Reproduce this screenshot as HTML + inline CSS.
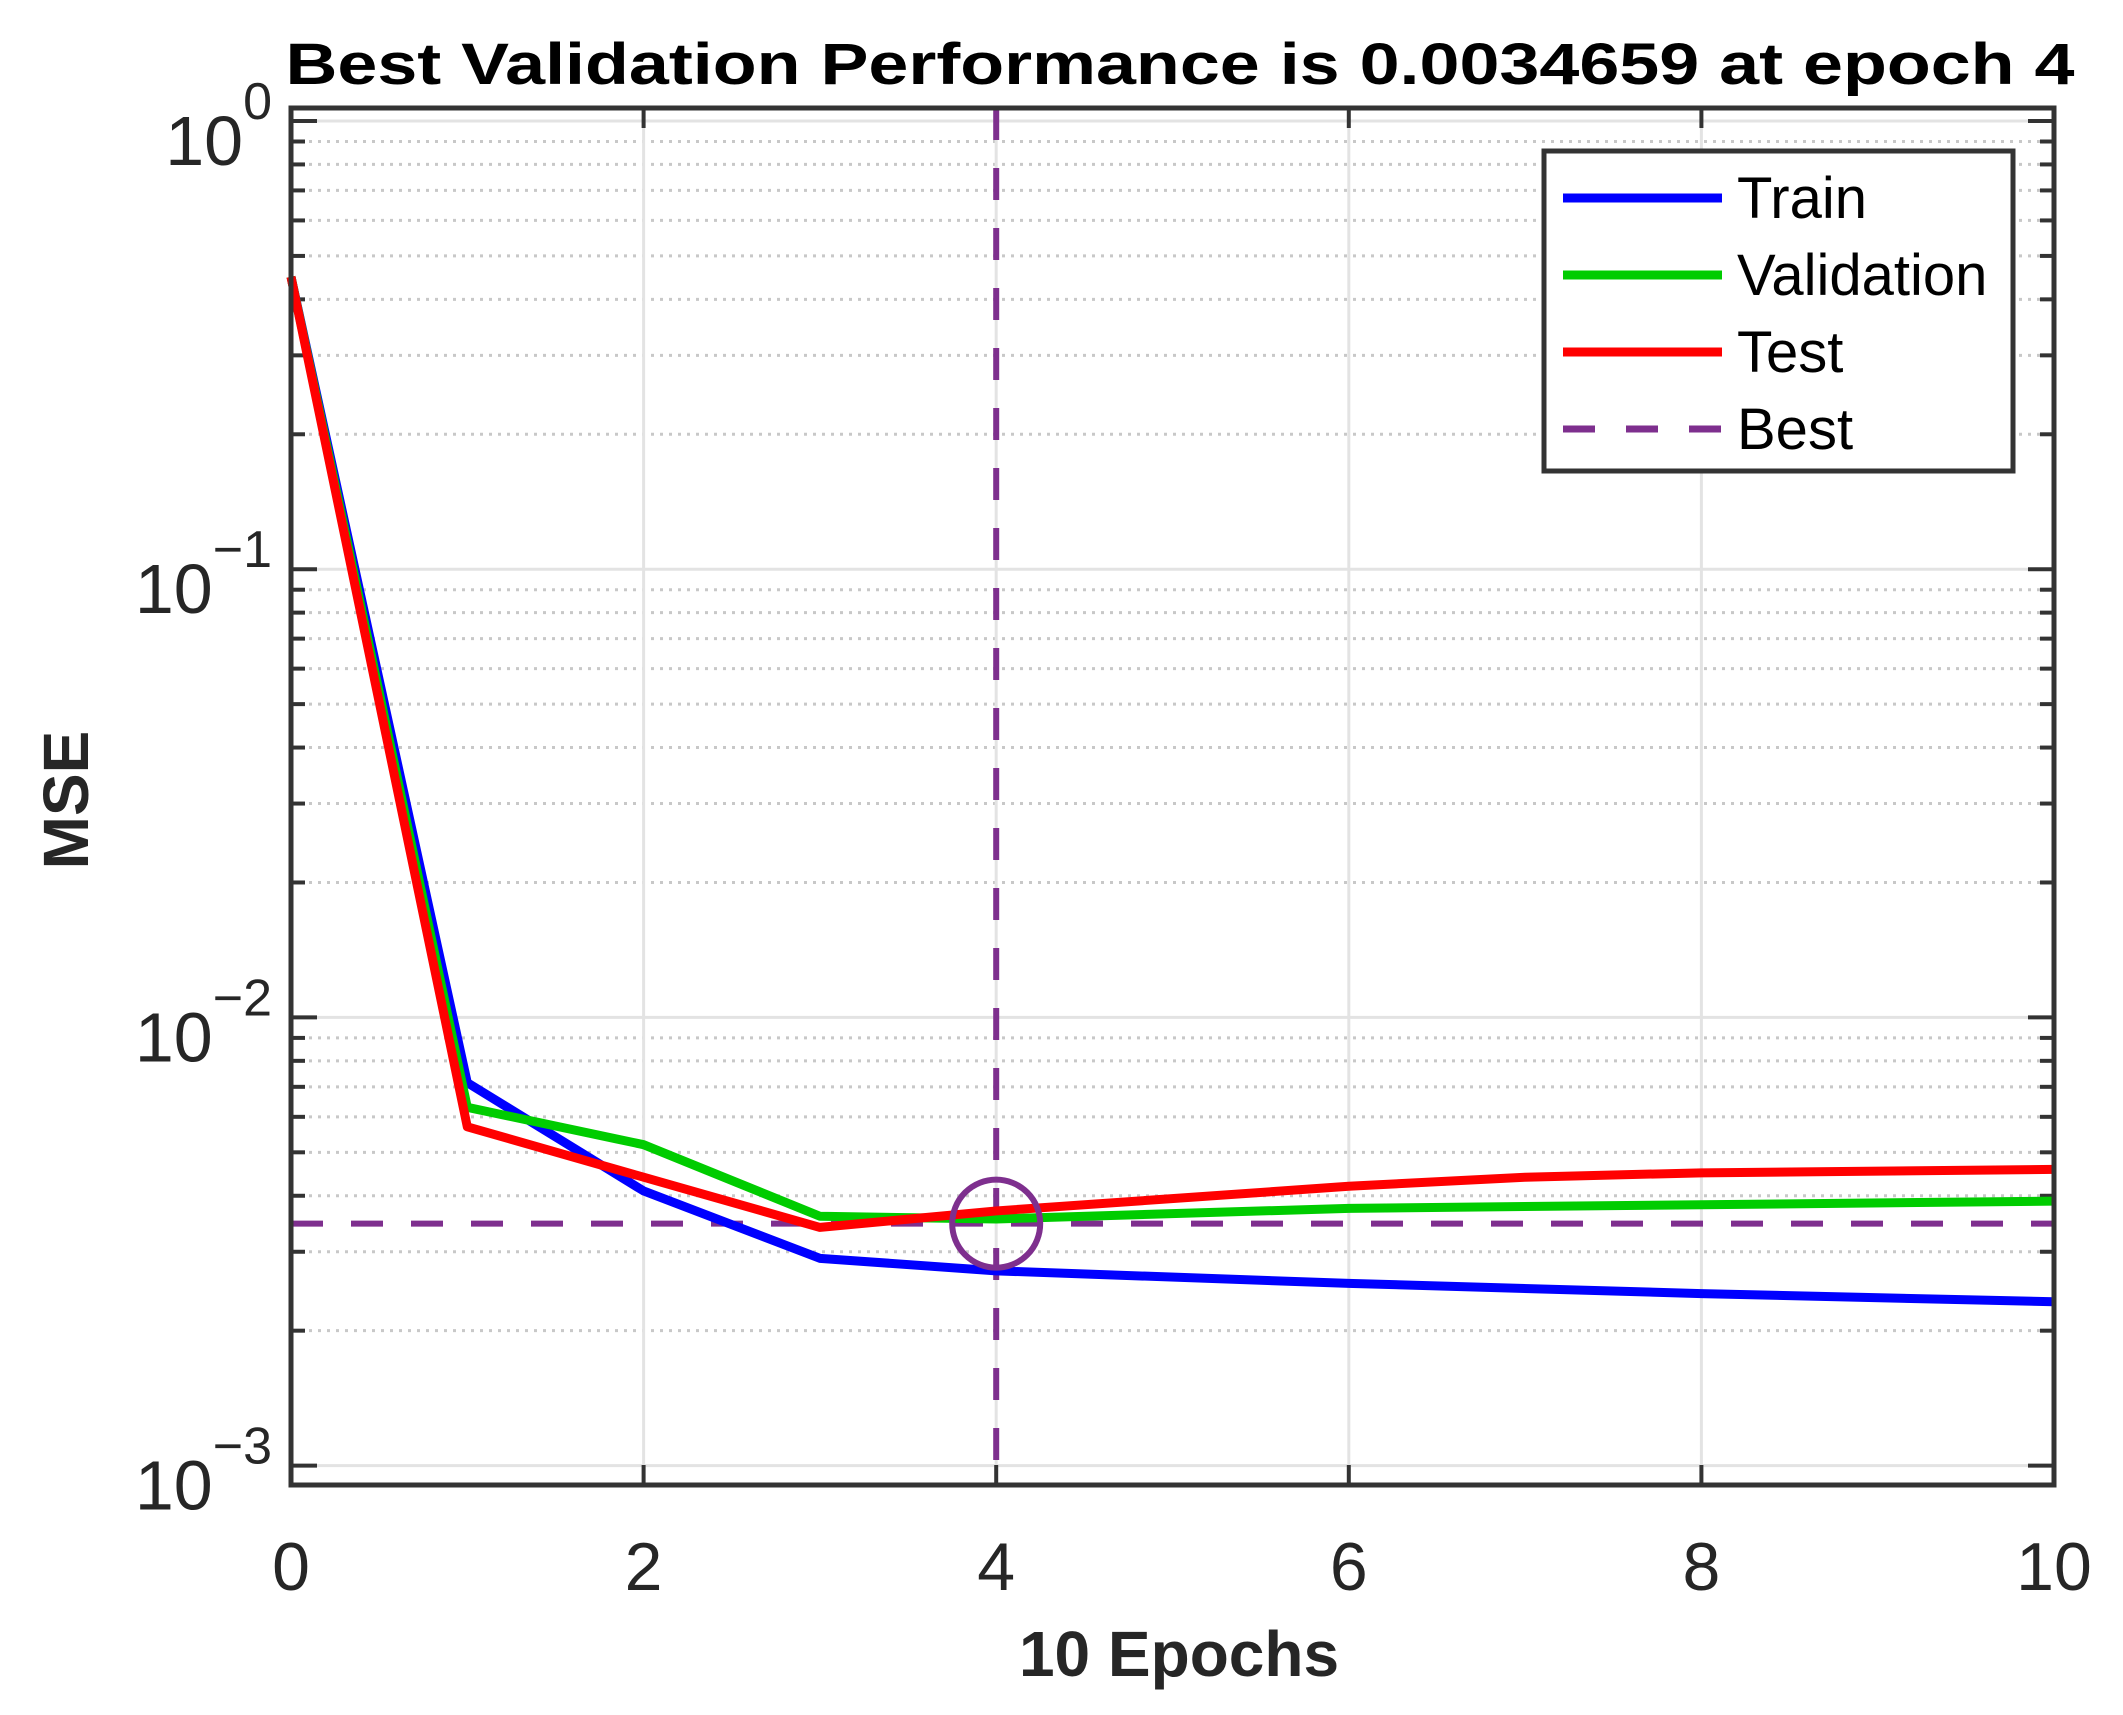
<!DOCTYPE html>
<html><head><meta charset="utf-8"><style>html,body{margin:0;padding:0;background:#fff}svg{display:block}</style></head>
<body>
<svg xmlns="http://www.w3.org/2000/svg" width="2123" height="1715" viewBox="0 0 2123 1715" font-family="Liberation Sans, Arial, sans-serif">
<rect width="2123" height="1715" fill="#fff"/>
<g id="grid"></g>
<g id="data"></g>
<script>
(function(){
var L=291,R=2054,T=108,B=1485,y0=121,D=448.2;
function X(e){return L+e*(R-L)/10}
function Y(v){return y0-Math.log10(v)*D}
var ns="http://www.w3.org/2000/svg";
var g=document.getElementById('grid'), d=document.getElementById('data');
function el(p,tag,a,txt){var e=document.createElementNS(ns,tag);for(var k in a)e.setAttribute(k,a[k]);if(txt!=null)e.textContent=txt;p.appendChild(e);return e}
for(var dec=-3;dec<0;dec++)for(var m=2;m<=9;m++){var y=Y(m*Math.pow(10,dec));
 el(g,'line',{x1:L,x2:R,y1:y,y2:y,stroke:'#c8c8c8','stroke-width':3,'stroke-dasharray':'3 6'});
 el(g,'line',{x1:L,x2:L+14,y1:y,y2:y,stroke:'#333','stroke-width':4});
 el(g,'line',{x1:R-14,x2:R,y1:y,y2:y,stroke:'#333','stroke-width':4});}
for(var dec=-3;dec<=0;dec++){var y=Y(Math.pow(10,dec));
 el(g,'line',{x1:L,x2:R,y1:y,y2:y,stroke:'#e3e3e3','stroke-width':3});
 el(g,'line',{x1:L,x2:L+26,y1:y,y2:y,stroke:'#333','stroke-width':4});
 el(g,'line',{x1:R-26,x2:R,y1:y,y2:y,stroke:'#333','stroke-width':4});
 var t=el(g,'text',{x:272,y:y+44,'text-anchor':'end','font-size':70,fill:'#262626'});
 el(t,'tspan',{},'10');
 el(t,'tspan',{dy:-46,'font-size':52},dec==0?'0':'\u2212'+(-dec));}
for(var e=0;e<=10;e+=2){var x=X(e);
 if(e>0&&e<10)el(g,'line',{x1:x,x2:x,y1:T,y2:B,stroke:'#e3e3e3','stroke-width':3});
 el(g,'line',{x1:x,x2:x,y1:B-20,y2:B,stroke:'#333','stroke-width':4});
 el(g,'line',{x1:x,x2:x,y1:T,y2:T+20,stroke:'#333','stroke-width':4});
 el(g,'text',{x:x,y:1590,'text-anchor':'middle','font-size':68,fill:'#262626'},String(e));}
function line(pts,c){el(d,'polyline',{points:pts.map(function(p){return X(p[0])+','+Y(p[1])}).join(' '),fill:'none',stroke:c,'stroke-width':9,'stroke-linejoin':'round'})}
var by=Y(0.0034659);
el(d,'line',{x1:L,x2:R,y1:by,y2:by,stroke:'#7e2f8e','stroke-width':6,'stroke-dasharray':'32 28'});
el(d,'line',{x1:X(4),x2:X(4),y1:T,y2:B,stroke:'#7e2f8e','stroke-width':6,'stroke-dasharray':'32 28'});
line([[0,0.449],[1,0.00715],[2,0.0041],[3,0.0029],[4,0.00272],[6,0.00255],[8,0.00242],[10,0.00232]],'#0000ff');
line([[0,0.449],[1,0.0063],[2,0.0052],[3,0.0036],[4,0.00355],[6,0.00375],[8,0.00382],[10,0.00389]],'#00cc00');
line([[0,0.449],[1,0.0057],[2,0.0044],[3,0.0034],[4,0.0037],[6,0.0042],[7,0.0044],[8,0.0045],[10,0.00458]],'#ff0000');
el(d,'circle',{cx:X(4),cy:by,r:44,fill:'none',stroke:'#7e2f8e','stroke-width':6});
el(d,'rect',{x:L,y:T,width:R-L,height:B-T,fill:'none',stroke:'#333','stroke-width':5});
el(d,'rect',{x:1544,y:151,width:469,height:320,fill:'#fff',stroke:'#333','stroke-width':5});
var items=[['Train','#0000ff',0],['Validation','#00cc00',0],['Test','#ff0000',0],['Best','#7e2f8e',1]];
items.forEach(function(it,i){var y=198+i*77;
 var a={x1:1563,x2:1722,y1:y,y2:y,stroke:it[1],'stroke-width':9};
 if(it[2]){a['stroke-dasharray']='32 31';a['stroke-width']=7;}
 el(d,'line',a);
 el(d,'text',{x:1737,y:y+20,'font-size':58,fill:'#000'},it[0]);});
})();
</script>
<text x="1180" y="84" text-anchor="middle" font-size="58" font-weight="bold" fill="#000" textLength="1789" lengthAdjust="spacingAndGlyphs">Best Validation Performance is 0.0034659 at epoch 4</text>
<text x="1179" y="1676" text-anchor="middle" font-size="64" font-weight="bold" fill="#262626">10 Epochs</text>
<text x="0" y="0" transform="translate(88,800) rotate(-90)" text-anchor="middle" font-size="64" font-weight="bold" fill="#262626">MSE</text>
</svg>
</body></html>
